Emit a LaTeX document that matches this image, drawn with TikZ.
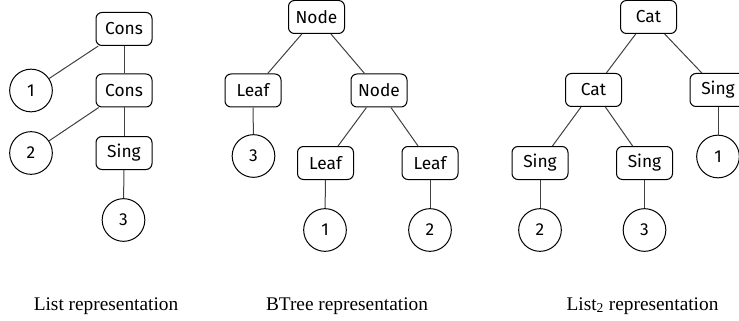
\documentclass[tikz,border=0pt]{standalone}
\usepackage{fontspec}
\setmainfont{Liberation Serif}
\newfontfamily\treefont{Fira Sans}
\usetikzlibrary{calc}
\definecolor{EdgeClr}{rgb}{0.25,0.25,0.25}

\begin{document}
\begin{tikzpicture}[x=0.75pt,y=-0.75pt,
  ctor/.style={draw,rounded corners=4.5pt,line width=0.75pt,font=\treefont\fontsize{13}{15}\selectfont,
    minimum width=42pt,minimum height=24.75pt,inner sep=0pt},
  val/.style={draw,circle,line width=0.75pt,font=\treefont\fontsize{13}{15}\selectfont,
    minimum size=32pt,inner sep=0pt},
  edge/.style={line width=0.75pt,color=EdgeClr},
  caption/.style={font=\fontsize{14.5}{17}\selectfont,anchor=base}]
\useasboundingbox (0,0) rectangle (739,321);

% List tree
\node[ctor] (lcons1) at (124,29) {Cons};
\node[val] (lv1) at (31,90.5) {1};
\node[ctor] (lcons2) at (124,90.5) {Cons};
\node[val] (lv2) at (31,153) {2};
\node[ctor] (lsing) at (124,153) {Sing};
\node[val] (lv3) at (123.5,220) {3};

\draw[edge] (lcons1) -- (lv1);
\draw[edge] (lcons1) -- (lcons2);
\draw[edge] (lcons2) -- (lv2);
\draw[edge] (lcons2) -- (lsing);
\draw[edge] (lsing) -- (lv3);

% BTree tree
\node[ctor] (bnode1) at (316.5,17) {Node};
\node[ctor] (bleafa) at (253,90.5) {Leaf};
\node[ctor] (bnode2) at (379,90.5) {Node};
\node[val] (bv3) at (253.5,156) {3};
\node[ctor] (bleafb) at (325.5,163) {Leaf};
\node[ctor] (bleafc) at (430,163) {Leaf};
\node[val] (bv1) at (325,230) {1};
\node[val] (bv2) at (430,230) {2};

\draw[edge] (bnode1) -- (bleafa);
\draw[edge] (bnode1) -- (bnode2);
\draw[edge] (bleafa) -- (bv3);
\draw[edge] (bnode2) -- (bleafb);
\draw[edge] (bnode2) -- (bleafc);
\draw[edge] (bleafb) -- (bv1);
\draw[edge] (bleafc) -- (bv2);

% List2 tree
\node[ctor] (ccat1) at (648.5,17) {Cat};
\node[ctor] (ccat2) at (593.5,90) {Cat};
\node[ctor] (csingr) at (718,90) {Sing};
\node[val] (cv1) at (718,156.5) {1};
\node[ctor] (csinga) at (540,163) {Sing};
\node[ctor] (csingb) at (644.5,163) {Sing};
\node[val] (cv2) at (540,230) {2};
\node[val] (cv3) at (644.5,230) {3};

\draw[edge] (ccat1) -- (ccat2);
\draw[edge] (ccat1) -- (csingr);
\draw[edge] (csingr) -- (cv1);
\draw[edge] (ccat2) -- (csinga);
\draw[edge] (ccat2) -- (csingb);
\draw[edge] (csinga) -- (cv2);
\draw[edge] (csingb) -- (cv3);

% Captions
\node[caption] (lcap) at (106,310) {List representation};
\node[caption] (bcap) at (347,310) {BTree representation};
\node[caption] (ccap) at (642.5,310) {List\textsubscript{2} representation};

\end{tikzpicture}
\end{document}
